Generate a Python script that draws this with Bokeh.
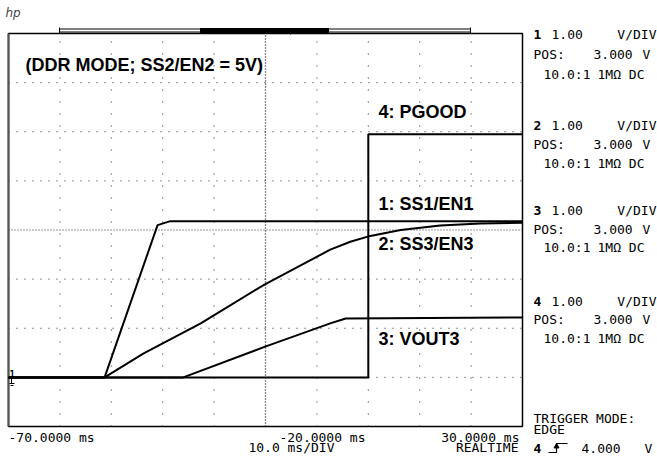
from bokeh.plotting import figure
from bokeh.models import Range1d, Label
from bokeh.embed import file_html
from bokeh.resources import INLINE

# ---------------- data (time in ms, level in V) ----------------
ch1_t = [-70.0, -51.3, -41.0, -38.5, 30.0]          # 1: SS1/EN1
ch1_v = [0.0, 0.0, 3.10, 3.18, 3.18]
ch2_t = [-70.0, -51.3, -43.7, -32.6, -20.2, -7.4, -3.5, 0.4, 6.3, 14.0, 21.8, 30.0]   # 2: SS3/EN3
ch2_v = [0.0, 0.0, 0.49, 1.10, 1.89, 2.60, 2.76, 2.88, 3.00, 3.09, 3.13, 3.15]
ch3_t = [-70.0, -36.0, -20.2, -7.4, -4.4, 30.0]     # 3: VOUT3
ch3_v = [0.0, 0.0, 0.62, 1.10, 1.20, 1.22]
ch4_t = [-70.0, 0.0, 0.0, 30.0]                     # 4: PGOOD
ch4_v = [0.0, 0.0, 4.95, 4.95]

trace_labels = ["4: PGOOD", "1: SS1/EN1", "2: SS3/EN3", "3: VOUT3"]
title_text = "(DDR MODE; SS2/EN2 = 5V)"

t_left, t_right = -70.0, 30.0        # 10 ms/div
v_bottom, v_top = -1.0, 7.0          # 1 V/div, POS 3.000 V
grid_t = [-60, -50, -40, -30, -10, 0, 10, 20]
grid_v = [0, 1, 2, 4, 5, 6]
center_t, center_v = -20, 3

chan_ids = ["1", "2", "3", "4"]
vdiv_txt, vdiv_unit = "1.00", "V/DIV"
pos_lbl, pos_val, pos_unit = "POS:", "3.000", "V"
probe_txt, coupling_txt = "10.0:1", "1MΩ DC"
time_labels = ["-70.0000 ms", "-20.0000 ms", "30.0000 ms"]
trig_lines = ["TRIGGER MODE:", "EDGE"]
trig_level = "4.000"

# ---------------- geometry ----------------
W, H = 657, 458
PX_MS = 514 / (t_right - t_left)
PX_V = 393 / (v_top - v_bottom)
FL, FT = 8, 33   # page pixel of frame top-left


def tx(px):
    return t_left + (px - FL) / PX_MS


def vy(py):
    return v_top - (py - FT) / PX_V


p = figure(width=W, height=H, output_backend="svg", toolbar_location=None,
           x_range=Range1d(tx(0), tx(W)), y_range=Range1d(vy(H), vy(0)),
           x_axis_type=None, y_axis_type=None, min_border=0)
p.outline_line_color = None
p.background_fill_color = "white"
p.border_fill_color = "white"

# graticule
n = len(grid_t)
p.segment(x0=grid_t, y0=[v_bottom] * n, x1=grid_t, y1=[v_top] * n,
          line_color="#222222", line_width=1, line_dash="1 11")
m = len(grid_v)
p.segment(x0=[t_left] * m, y0=grid_v, x1=[t_right] * m, y1=grid_v,
          line_color="#222222", line_width=1, line_dash="1 7")
p.segment(x0=[center_t], y0=[v_bottom], x1=[center_t], y1=[v_top],
          line_color="#111111", line_width=1.3, line_dash="1 2")
p.segment(x0=[t_left], y0=[center_v], x1=[t_right], y1=[center_v],
          line_color="#333333", line_width=1, line_dash="1 2")

# frame
p.quad(left=[t_left], right=[t_right], bottom=[v_bottom], top=[v_top],
       fill_color=None, line_color="black", line_width=1.5)
p.segment(x0=[t_left], y0=[v_bottom], x1=[t_left], y1=[v_top],
          line_color="#555555", line_width=2)

# traces
for tt, vv in [(ch3_t, ch3_v), (ch4_t, ch4_v), (ch2_t, ch2_v), (ch1_t, ch1_v)]:
    p.line(tt, vv, line_color="black", line_width=2)

# memory bar above the screen
p.segment(x0=[tx(59), tx(59)], y0=[vy(28.5), vy(31.5)], x1=[tx(470), tx(470)], y1=[vy(28.5), vy(31.5)],
          line_color="black", line_width=1)
p.quad(left=[tx(200)], right=[tx(328)], bottom=[vy(32)], top=[vy(28)],
       fill_color="black", line_color="black")
p.segment(x0=[tx(59), tx(470), tx(290)], y0=[vy(27), vy(27), vy(31)],
          x1=[tx(59), tx(470), tx(290)], y1=[vy(33), vy(33), vy(34)],
          line_color="black", line_width=1)

# ground marker at the left edge
p.segment(x0=[tx(11), tx(9), tx(10)], y0=[vy(378), vy(383), vy(385)],
          x1=[tx(11), tx(14), tx(13)], y1=[vy(383), vy(383), vy(385)],
          line_color="black", line_width=1)

# trigger edge symbol
p.line([tx(548), tx(556), tx(556), tx(567)], [vy(452), vy(452), vy(443), vy(443)],
       line_color="black", line_width=1.2)
p.scatter([tx(556)], [vy(446)], marker="triangle", size=5, color="black")


def lab(px, py, text, size="13px", font="DejaVu Sans Mono", style="normal", align="left", color="black"):
    p.add_layout(Label(x=tx(px), y=vy(py), text=text, text_font=font, text_font_size=size,
                       text_font_style=style, text_align=align, text_baseline="middle",
                       text_color=color))


# logo
lab(5, 12, "hp", size="12px", font="DejaVu Sans", style="italic", color="#444444")
lab(9, 373, chan_ids[0], size="9px", style="bold")

# in-screen labels
big = dict(size="18px", font="Liberation Sans", style="bold")
lab(25, 64, title_text, **big)
lab(378, 111, trace_labels[0], **big)
lab(378, 203, trace_labels[1], **big)
lab(378, 243, trace_labels[2], **big)
lab(378, 338, trace_labels[3], **big)

# time labels
lab(8, 437, time_labels[0])
lab(365, 437, time_labels[1], align="right")
lab(334, 447, "10.0 ms/DIV", align="right")
lab(519, 437, time_labels[2], align="right")
lab(518, 447, "REALTIME", align="right")

# channel panels
rows = [(34, 54, 74), (125, 144, 163), (210, 229, 247), (301, 319, 338)]
for cid, (r1, r2, r3) in zip(chan_ids, rows):
    lab(533, r1, cid, style="bold")
    lab(551, r1, vdiv_txt)
    lab(656, r1, vdiv_unit, align="right")
    lab(533, r2, pos_lbl)
    lab(593, r2, pos_val)
    lab(642, r2, pos_unit)
    lab(543, r3, probe_txt)
    lab(644, r3, coupling_txt, align="right")

# trigger
lab(533, 418, trig_lines[0])
lab(533, 429, trig_lines[1])
lab(533, 448, chan_ids[3], style="bold")
lab(581, 448, trig_level)
lab(644, 448, pos_unit)

open("out.html", "w").write(file_html(p, INLINE))
